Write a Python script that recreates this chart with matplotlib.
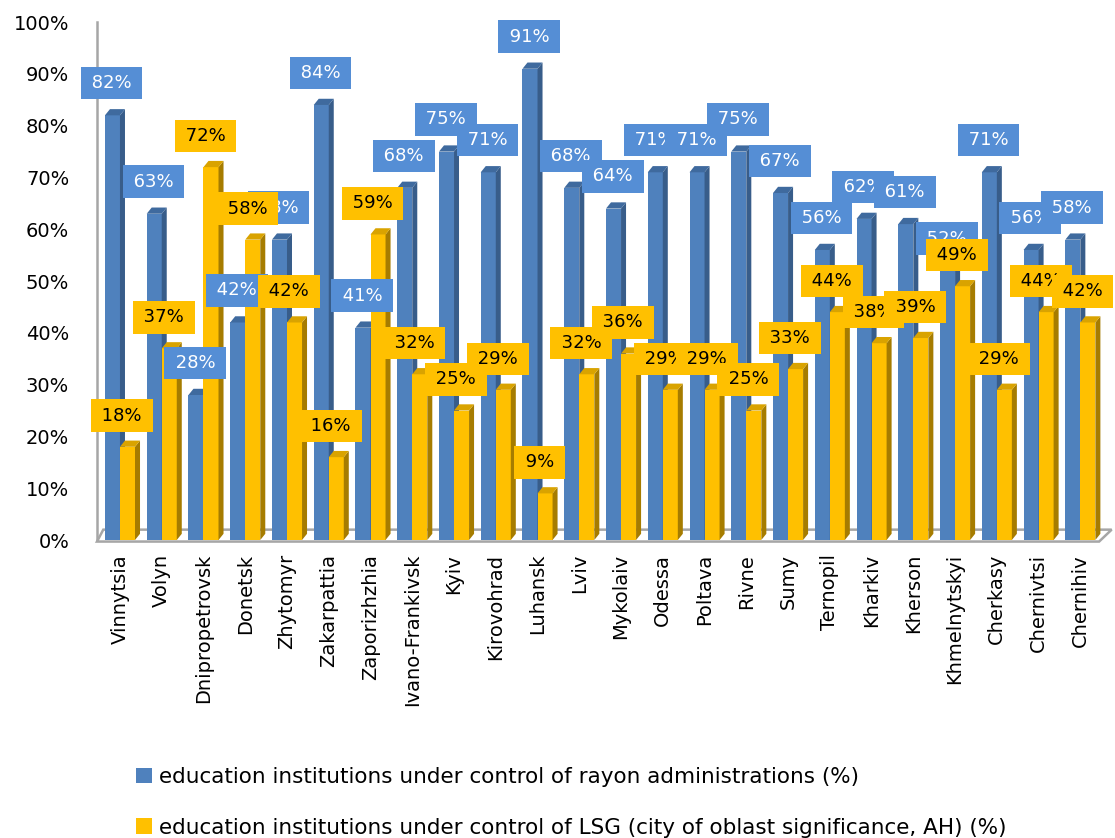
import matplotlib.pyplot as plt
from matplotlib.patches import Polygon, Patch
import numpy as np

# Data
regions = ['Vinnytsia', 'Volyn', 'Dnipropetrovsk', 'Donetsk', 'Zhytomyr', 'Zakarpattia',
           'Zaporizhzhia', 'Ivano-Frankivsk', 'Kyiv', 'Kirovohrad', 'Luhansk', 'Lviv',
           'Mykolaiv', 'Odessa', 'Poltava', 'Rivne', 'Sumy', 'Ternopil', 'Kharkiv',
           'Kherson', 'Khmelnytskyi', 'Cherkasy', 'Chernivtsi', 'Chernihiv']
rayon = [82, 63, 28, 42, 58, 84, 41, 68, 75, 71, 91, 68, 64, 71, 71, 75, 67, 56, 62,
         61, 52, 71, 56, 58]
lsg = [18, 37, 72, 58, 42, 16, 59, 32, 25, 29, 9, 32, 36, 29, 29, 25, 33, 44, 38,
       39, 49, 29, 44, 42]
series_names = ['education institutions under control of rayon administrations (%)',
                'education institutions under control of LSG (city of oblast significance, AH) (%)']

plt.rcParams['font.family'] = 'DejaVu Sans'

# colours: front, side, top, label box
blue = ('#4F81BD', '#385D8A', '#3F6A9E', '#558ED5')
yellow = ('#FFC000', '#A67C00', '#D9A300', '#FFC000')

bar_w = 0.36
depth = 0.12
rise = 1.2

fig = plt.figure(figsize=(11.15, 8.38), dpi=100)
ax = fig.add_axes([0.087, 0.3556, 0.91, 0.618])
ax.set_xlim(-0.55, 23.75)
ax.set_ylim(0, 100)

# floor of the 3D box
floor = Polygon([(-0.55, -0.3), (23.45, -0.3), (23.75, 2.0), (-0.4, 2.0)], closed=True,
                facecolor='white', edgecolor='#A6A6A6', linewidth=1.8, zorder=1, clip_on=False)
ax.add_patch(floor)


def bar3d(x0, v, cols, z):
    ax.bar(x0, v, width=bar_w, align='edge', color=cols[0], zorder=z, linewidth=0)
    side = Polygon([(x0 + bar_w, 0), (x0 + bar_w + depth, rise), (x0 + bar_w + depth, v + rise),
                    (x0 + bar_w, v)], closed=True, facecolor=cols[1], edgecolor='none', zorder=z)
    top = Polygon([(x0, v), (x0 + bar_w, v), (x0 + bar_w + depth, v + rise), (x0 + depth, v + rise)],
                  closed=True, facecolor=cols[2], edgecolor='none', zorder=z)
    ax.add_patch(side)
    ax.add_patch(top)


x = np.arange(len(regions))
for i in x:
    bar3d(i - bar_w, rayon[i], blue, 2 + i * 0.01)
    bar3d(i, lsg[i], yellow, 2.005 + i * 0.01)

thin = '\u2009'
for i in x:
    ax.text(i - 0.2, rayon[i] + 6.2, thin + f'{rayon[i]}%' + thin, ha='center', va='center',
            fontsize=13, color='white', zorder=5 + i * 0.01,
            bbox=dict(boxstyle='square,pad=0.4', facecolor=blue[3], edgecolor='none'))
for i in x:
    ax.text(i + 0.05, lsg[i] + 6.0, thin + f'{lsg[i]}%' + thin, ha='center', va='center',
            fontsize=13, color='black', zorder=6 + i * 0.01,
            bbox=dict(boxstyle='square,pad=0.4', facecolor=yellow[3], edgecolor='none'))

ax.set_yticks(np.arange(0, 101, 10))
ax.set_yticklabels([f'{t}%' for t in range(0, 101, 10)], fontsize=14)
ax.set_xticks(x)
ax.set_xticklabels(regions, rotation=90, fontsize=14, va='top')
ax.tick_params(axis='y', length=0, pad=20)
ax.tick_params(axis='x', length=0, pad=10)

for s in ['top', 'right', 'bottom']:
    ax.spines[s].set_visible(False)
ax.spines['left'].set_color('#A6A6A6')
ax.spines['left'].set_linewidth(1.8)
ax.spines['left'].set_zorder(1)

handles = [Patch(facecolor=blue[0]), Patch(facecolor=yellow[0])]
fig.legend(handles, series_names, loc='upper left', bbox_to_anchor=(0.114, 0.095),
           frameon=False, fontsize=15.5, handlelength=0.75, handleheight=0.75,
           handletextpad=0.35, labelspacing=1.43, borderaxespad=0)

fig.savefig('out.png', dpi=100)
